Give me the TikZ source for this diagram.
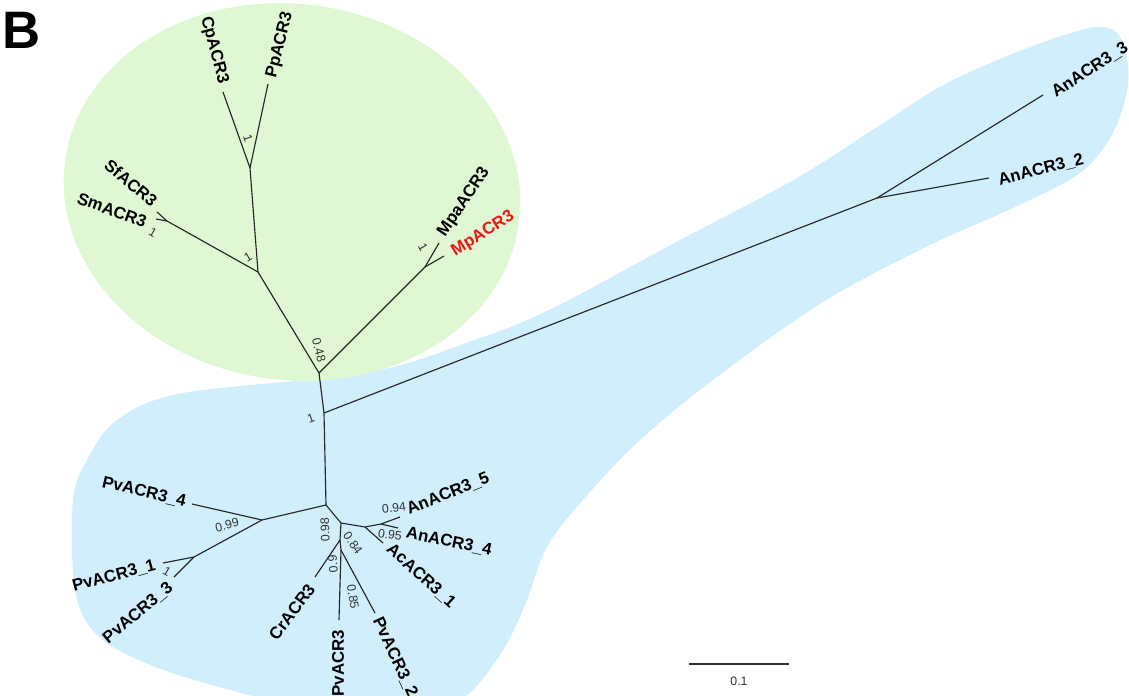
\documentclass[tikz,border=0pt]{standalone}
\usepackage{fontspec}
\setmainfont{Liberation Sans}
\definecolor{bluefill}{RGB}{208,238,252}
\definecolor{greenfill}{RGB}{224,247,212}
\definecolor{mpred}{RGB}{240,20,20}
\begin{document}
\begin{tikzpicture}[x=0.02cm,y=-0.02cm,
  br/.style={line width=0.65pt, black!85},
  leaf/.style={font=\bfseries\fontsize{9.6}{10}\selectfont, inner sep=0pt},
  supp/.style={font=\fontsize{7}{8}\selectfont, inner sep=0pt, text=black!80}]
\useasboundingbox (0,0) rectangle (1129,696);
\begin{scope}
\clip (0,0) rectangle (1129,696);
\fill[bluefill] plot[smooth cycle, tension=0.55] coordinates {
 (73,500) (75,590) (97,635) (150,665) (230,690) (300,705) (400,708) (460,700)
 (500,655) (525,605) (548,545) (590,492) (640,440) (713,380) (823,302) (930,245)
 (1013,208) (1080,173) (1113,133) (1128,83) (1122,40) (1097,27) (1030,47) (947,83)
 (880,125) (797,178) (680,240) (553,308) (480,338) (370,372) (183,393) (117,420) (87,460)};
\fill[greenfill, rotate around={-8:(292,192)}] (292,192) ellipse [x radius=229, y radius=188];
\end{scope}
% internal nodes
\coordinate (r0) at (319,373);
\coordinate (n1) at (324,413);
\coordinate (n2) at (326,505);
\coordinate (g1) at (258,272);
\coordinate (g2) at (250,168);
\coordinate (gs) at (167,221);
\coordinate (gm) at (425,267);
\coordinate (an) at (877,198);
\coordinate (p1) at (262,520);
\coordinate (p2) at (194,557);
\coordinate (na) at (341,523);
\coordinate (nd) at (365,527);
\coordinate (ne) at (381,524);
\coordinate (nb) at (340,540);
\coordinate (nc) at (341,550);
% tips
\coordinate (tcp) at (223,92);
\coordinate (tpp) at (268,84);
\coordinate (tsf) at (157,212);
\coordinate (tsm) at (156,219);
\coordinate (tmpa) at (439,243);
\coordinate (tmp) at (444,256);
\coordinate (tan3) at (1043,95);
\coordinate (tan2) at (989,178);
\coordinate (tpv4) at (192,504);
\coordinate (tpv1) at (163,563);
\coordinate (tpv3) at (174,577);
\coordinate (tan5) at (400,517);
\coordinate (tan4) at (398,528);
\coordinate (tac1) at (383,543);
\coordinate (tcr) at (315,577);
\coordinate (tpv) at (339,620);
\coordinate (tpv2) at (375,613);
% branches
\draw[br] (r0) -- (n1) -- (n2);
\draw[br] (r0) -- (g1) -- (g2) -- (tcp);
\draw[br] (g2) -- (tpp);
\draw[br] (g1) -- (gs) -- (tsf);
\draw[br] (gs) -- (tsm);
\draw[br] (r0) -- (gm) -- (tmpa);
\draw[br] (gm) -- (tmp);
\draw[br] (n1) -- (an) -- (tan3);
\draw[br] (an) -- (tan2);
\draw[br] (n2) -- (p1) -- (tpv4);
\draw[br] (p1) -- (p2) -- (tpv1);
\draw[br] (p2) -- (tpv3);
\draw[br] (n2) -- (na) -- (nd) -- (ne) -- (tan5);
\draw[br] (ne) -- (tan4);
\draw[br] (nd) -- (tac1);
\draw[br] (na) -- (nb) -- (tcr);
\draw[br] (nb) -- (nc) -- (tpv);
\draw[br] (nc) -- (tpv2);
% leaf labels
\node[leaf, rotate=-75] (lcp) at (214,50) {CpACR3};
\node[leaf, rotate=76] (lpp) at (280,45) {PpACR3};
\node[leaf, rotate=-40] (lsf) at (131,183) {SfACR3};
\node[leaf, rotate=-20] (lsm) at (112,210) {SmACR3};
\node[leaf, rotate=56] (lmpa) at (464,202) {MpaACR3};
\node[leaf, rotate=32, text=mpred] (lmp) at (483,234) {MpACR3};
\node[leaf, rotate=33] (lan3) at (1090,70) {AnACR3\_3};
\node[leaf, rotate=14] (lan2) at (1041,170) {AnACR3\_2};
\node[leaf, rotate=-13] (lpv4) at (144,492) {PvACR3\_4};
\node[leaf, rotate=15] (lpv1) at (114,576) {PvACR3\_1};
\node[leaf, rotate=40] (lpv3) at (138,613) {PvACR3\_3};
\node[leaf, rotate=53] (lcr) at (292,612) {CrACR3};
\node[leaf, rotate=90] (lpv) at (338,663) {PvACR3};
\node[leaf, rotate=-65] (lpv2) at (395,657) {PvACR3\_2};
\node[leaf, rotate=-42] (lac1) at (421,576) {AcACR3\_1};
\node[leaf, rotate=22] (lan5) at (448,494) {AnACR3\_5};
\node[leaf, rotate=-12] (lan4) at (449,542) {AnACR3\_4};
% support values
\node[supp, rotate=-70] (s1) at (248,138) {1};
\node[supp, rotate=30] (s2) at (248,257) {1};
\node[supp, rotate=-30] (s3) at (153,233) {1};
\node[supp, rotate=-75] (s4) at (319,350) {0.48};
\node[supp, rotate=-60] (s5) at (423,247) {1};
\node[supp, rotate=20] (s6) at (311,418) {1};
\node[supp, rotate=15] (s7) at (227,525) {0.99};
\node[supp, rotate=-30] (s8) at (167,572) {1};
\node[supp, rotate=92] (s9) at (325,530) {0.98};
\node[supp, rotate=-55] (s10) at (353,543) {0.84};
\node[supp, rotate=95] (s11) at (333,564) {0.9};
\node[supp, rotate=-80] (s12) at (353,597) {0.85};
\node[supp, rotate=8] (s13) at (394,508) {0.94};
\node[supp, rotate=-8] (s14) at (390,535) {0.95};
% panel letter
\node[font=\bfseries\fontsize{30}{30}\selectfont, inner sep=0pt] (panel) at (22,30) {B};
% scale bar
\coordinate (sb1) at (689,664);
\coordinate (sb2) at (789,664);
\draw[line width=0.8pt, black!80] (sb1) -- (sb2);
\node[supp] (sbl) at (739,681) {0.1};
\end{tikzpicture}
\end{document}
